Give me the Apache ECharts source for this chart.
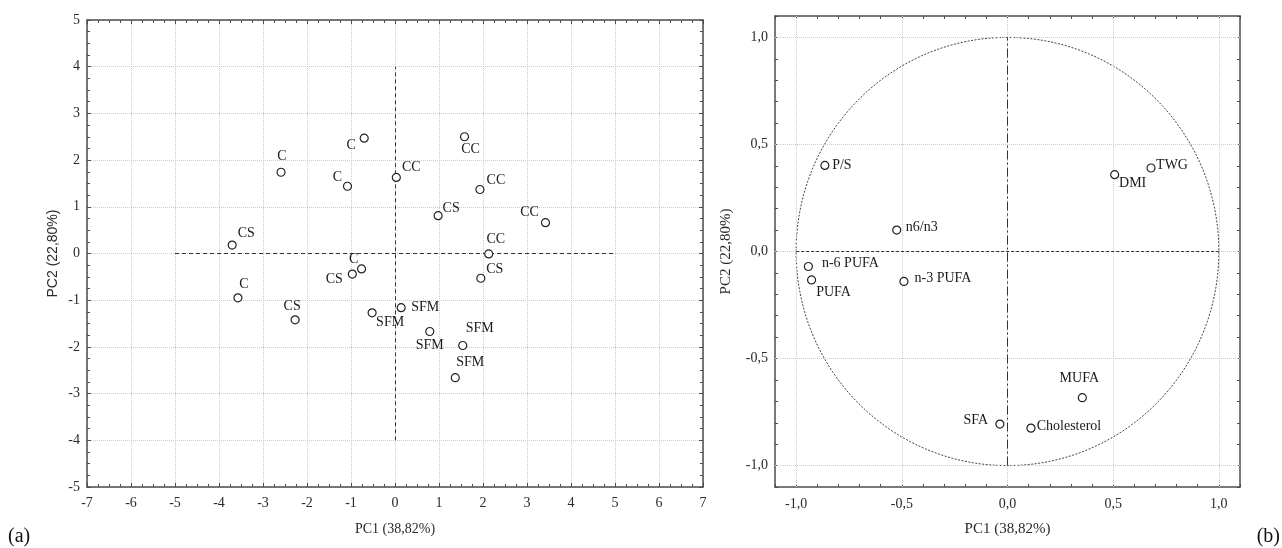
<!DOCTYPE html>
<html><head><meta charset="utf-8">
<script src="https://cdn.jsdelivr.net/npm/echarts@6/dist/echarts.min.js"></script>
<style>html,body{margin:0;padding:0;background:#fff}#c{width:1282px;height:548px}</style>
</head><body><div id="c"></div>
<script>
// ---- Panel (a): PCA scores ----
const scoreLabels = ['CS','C','C','CS','C','C','CC','C','CS','CC','CC','CS','CC','CC','CS','SFM','SFM','SFM','SFM','SFM'];
const scorePC1 = [-3.70,-2.59,-3.57,-2.27,-1.08,-0.70,0.03,-0.76,-0.97,1.58,1.93,0.98,3.42,2.13,1.95,0.14,-0.52,0.79,1.54,1.37];
const scorePC2 = [0.18,1.74,-0.95,-1.42,1.44,2.47,1.63,-0.33,-0.44,2.50,1.37,0.81,0.66,-0.01,-0.53,-1.16,-1.27,-1.67,-1.97,-2.66];
const scoreTicksX = [-7,-6,-5,-4,-3,-2,-1,0,1,2,3,4,5,6,7];
const scoreTicksY = [-5,-4,-3,-2,-1,0,1,2,3,4,5];
const scoreRefH = [[-5,0],[5,0]];
const scoreRefV = [[0,-4],[0,4]];

// ---- Panel (b): loadings ----
const loadVars = ['P/S','DMI','TWG','n6/n3','n-6 PUFA','PUFA','n-3 PUFA','MUFA','SFA','Cholesterol'];
const loadPC1 = [-0.864,0.507,0.679,-0.524,-0.942,-0.927,-0.49,0.354,-0.036,0.111];
const loadPC2 = [0.402,0.359,0.39,0.10,-0.07,-0.133,-0.14,-0.683,-0.806,-0.825];
const loadTicks = [-1.0,-0.5,0.0,0.5,1.0];
const loadAxisRange = [-1.1,1.1];
const loadRefH = [[-1,0],[1,0]];
const loadRefV = [[0,-1],[0,1]];
const circleCenter = [0,0];
const circleRadius = 1;

// label placements (pixel offsets of label centres from the marker)
const scoreLabelOffset = [[14,-12],[1,-16],[6,-14],[-3,-13],[-10,-9],[-13,7],[15,-10],[-8,-10],[-18,5],[6,13],[16,-9],[13,-7],[-16,-10],[7,-15],[14,-9],[24,0],[18,10],[0,14],[17,-17],[15,-15]];
const loadLabelOffset = [[17,0],[18,9],[21,-3],[25,-3],[42,-3],[22,12],[39,-3],[-3,-19],[-24,-4],[38,-2]];

const SERIF = 'Liberation Serif';
const SANS = 'Liberation Sans';
const frame = {show:true, onZero:false, lineStyle:{color:'#4d4d4d', width:1.5}};
const gridLine = {show:true, lineStyle:{color:'#cccccc', type:'dotted', width:1}};
const tickStyle = {color:'#4d4d4d', width:1};

function scoreX(pos, main){
  return {type:'value', gridIndex:0, position:pos, min:scoreTicksX[0], max:scoreTicksX[scoreTicksX.length-1], interval:1,
    axisLine:frame, axisTick:{show:true, inside:true, length:4, lineStyle:tickStyle},
    minorTick:{show:true, splitNumber:4, length:3, lineStyle:tickStyle},
    splitLine: main ? gridLine : {show:false},
    axisLabel:{show:main, margin:9, fontFamily:SERIF, fontSize:14, color:'#2a2a2a'},
    name: main ? 'PC1 (38,82%)' : '', nameLocation:'middle', nameGap:35,
    nameTextStyle:{fontFamily:SERIF, fontSize:14, color:'#2a2a2a'}};
}
function scoreY(pos, main){
  return {type:'value', gridIndex:0, position:pos, min:scoreTicksY[0], max:scoreTicksY[scoreTicksY.length-1], interval:1,
    axisLine:frame, axisTick:{show:true, inside:true, length:4, lineStyle:tickStyle},
    minorTick:{show:true, splitNumber:4, length:3, lineStyle:tickStyle},
    splitLine: main ? gridLine : {show:false},
    axisLabel:{show:main, margin:7, fontFamily:SERIF, fontSize:14, color:'#2a2a2a'},
    name: main ? 'PC2 (22,80%)' : '', nameLocation:'middle', nameGap:27,
    nameTextStyle:{fontFamily:SANS, fontSize:14, color:'#2a2a2a'}};
}
const fmtLoad = v => {
  const r = Math.round(v*10)/10;
  return loadTicks.some(t => Math.abs(t - r) < 1e-6) ? (r === 0 ? 0 : r).toFixed(1).replace('.', ',') : '';
};
function loadAxis(kind, pos, main){
  return {type:'value', gridIndex:1, position:pos, min:loadAxisRange[0], max:loadAxisRange[1], interval:0.1,
    axisLine:frame, axisTick:{show:true, inside:true, length:3, lineStyle:tickStyle},
    splitLine:{show:false},
    axisLabel:{show:main, margin: kind==='x' ? 10 : 7, fontFamily:SERIF, fontSize:14, color:'#2a2a2a', formatter:fmtLoad},
    name: main ? (kind==='x' ? 'PC1 (38,82%)' : 'PC2 (22,80%)') : '', nameLocation:'middle', nameGap: kind==='x' ? 35 : 41,
    nameTextStyle:{fontFamily:SERIF, fontSize:15, color:'#2a2a2a'}};
}

const pointLabel = {show:true, position:'inside', formatter:'{b}', fontFamily:SERIF, fontSize:14, color:'#1a1a1a'};
const markerStyle = {color:'#ffffff', borderColor:'#222', borderWidth:1.2, opacity:1};

const option = {
  animation:false,
  backgroundColor:'#ffffff',
  title:[
    {text:'(a)', left:8, top:527, padding:0, textStyle:{fontFamily:SERIF, fontSize:20, fontWeight:'normal', color:'#111'}},
    {text:'(b)', right:2, top:527, padding:0, textStyle:{fontFamily:SERIF, fontSize:20, fontWeight:'normal', color:'#111'}}
  ],
  grid:[
    {left:87, top:20, width:616, height:467},
    {left:775, top:16, width:465, height:471}
  ],
  xAxis:[scoreX('bottom', true), scoreX('top', false), loadAxis('x','bottom',true), loadAxis('x','top',false)],
  yAxis:[scoreY('left', true), scoreY('right', false), loadAxis('y','left',true), loadAxis('y','right',false)],
  series:[
    // reference lines panel (a)
    {type:'scatter', xAxisIndex:0, yAxisIndex:0, data:[], silent:true, z:2,
      markLine:{silent:true, symbol:['none','none'], label:{show:false}, animation:false,
        lineStyle:{color:'#333', type:[4,3], width:1},
        data:[[{coord:scoreRefH[0]},{coord:scoreRefH[1]}],[{coord:scoreRefV[0]},{coord:scoreRefV[1]}]]}},
    // grid lines panel (b)
    {type:'scatter', xAxisIndex:2, yAxisIndex:2, data:[], silent:true, z:1,
      markLine:{silent:true, symbol:['none','none'], label:{show:false}, animation:false,
        lineStyle:{color:'#cccccc', type:'dotted', width:1},
        data: loadTicks.map(t => ({xAxis:t})).concat(loadTicks.map(t => ({yAxis:t})))}},
    // reference lines panel (b)
    {type:'scatter', xAxisIndex:2, yAxisIndex:2, data:[], silent:true, z:2,
      markLine:{silent:true, symbol:['none','none'], label:{show:false}, animation:false,
        data:[
          [{coord:loadRefH[0], lineStyle:{color:'#333', type:[3,2], width:1}},{coord:loadRefH[1]}],
          [{coord:loadRefV[0], lineStyle:{color:'#333', type:[9,3,2,3], width:1}},{coord:loadRefV[1]}]
        ]}},
    // unit circle
    {type:'custom', xAxisIndex:2, yAxisIndex:2, silent:true, z:3,
      data:[[circleCenter[0], circleCenter[1]]],
      renderItem:(params, api) => {
        const c = api.coord([api.value(0), api.value(1)]);
        const s = api.size([circleRadius, circleRadius]);
        return {type:'ellipse', shape:{cx:c[0], cy:c[1], rx:s[0], ry:s[1]},
          style:{fill:'none', stroke:'#444', lineWidth:1, lineDash:[2,1.5]}};
      }},
    // scores
    {type:'scatter', xAxisIndex:0, yAxisIndex:0, symbol:'circle', symbolSize:8, z:5,
      itemStyle:markerStyle, label:pointLabel,
      data: scorePC1.map((x,i) => ({name:scoreLabels[i], value:[x, scorePC2[i]], label:{offset:scoreLabelOffset[i]}}))},
    // loadings
    {type:'scatter', xAxisIndex:2, yAxisIndex:2, symbol:'circle', symbolSize:8, z:5,
      itemStyle:markerStyle, label:pointLabel,
      data: loadPC1.map((x,i) => ({name:loadVars[i], value:[x, loadPC2[i]], label:{offset:loadLabelOffset[i]}}))}
  ]
};
const chart = echarts.init(document.getElementById('c'), null, {renderer:'canvas'});
chart.setOption(option);
</script></body></html>
